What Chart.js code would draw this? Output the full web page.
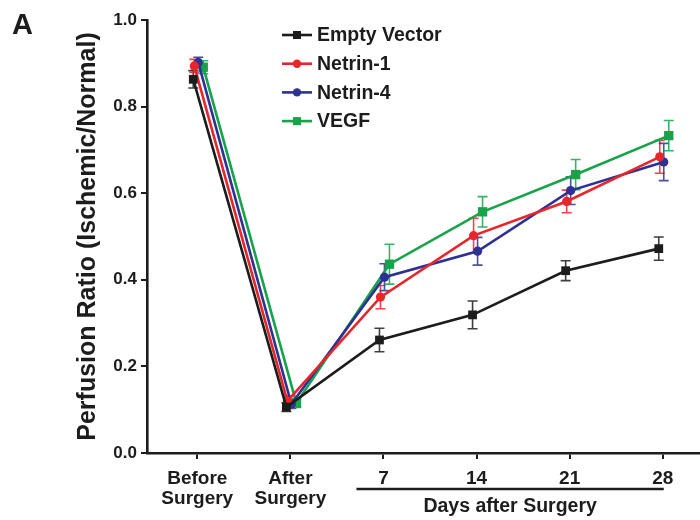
<!DOCTYPE html>
<html>
<head>
<meta charset="utf-8">
<script src="https://cdn.jsdelivr.net/npm/chart.js@4.4.1/dist/chart.umd.min.js"></script>
<style>
html,body{margin:0;padding:0;background:#ffffff;}
#wrap{width:700px;height:520px;position:relative;}
</style>
</head>
<body>
<div id="wrap"><canvas id="c" width="700" height="520"></canvas></div>
<script>
// ---- data ----
const tickLabels = [['Before', 'Surgery'], ['After', 'Surgery'], '7', '14', '21', '28'];
const seriesNames = ['Empty Vector', 'Netrin-1', 'Netrin-4', 'VEGF'];
const yTickValues = [0, 0.2, 0.4, 0.6, 0.8, 1.0];

const emptyVector    = [0.863, 0.106, 0.261, 0.319, 0.421, 0.472];
const emptyVectorErr = [0.020, 0.010, 0.027, 0.032, 0.023, 0.027];
const netrin1        = [0.894, 0.120, 0.360, 0.502, 0.581, 0.684];
const netrin1Err     = [0.015, 0.012, 0.027, 0.040, 0.026, 0.038];
const netrin4        = [0.902, 0.113, 0.406, 0.466, 0.606, 0.672];
const netrin4Err     = [0.012, 0.010, 0.031, 0.032, 0.032, 0.043];
const vegf           = [0.891, 0.115, 0.436, 0.557, 0.643, 0.733];
const vegfErr        = [0.015, 0.010, 0.046, 0.035, 0.035, 0.035];

const FONT = "'Liberation Sans', Arial, Helvetica, sans-serif";
const INK = '#1c1c1c';

function pts(arr) { return arr.map((v, i) => ({ x: i, y: v })); }

const seriesValues = [emptyVector, netrin1, netrin4, vegf];
const seriesErrors = [emptyVectorErr, netrin1Err, netrin4Err, vegfErr];
const seriesStyle = [
  { color: '#1c1c1c', point: 'rect',   radius: 6.2, nudge: -4 },
  { color: '#e8252b', point: 'circle', radius: 4.6, nudge: -3 },
  { color: '#2e3192', point: 'circle', radius: 4.6, nudge: 1 },
  { color: '#17a34a', point: 'rect',   radius: 6.6, nudge: 6 }
];

const datasets = seriesNames.map((name, k) => ({
  label: name,
  data: pts(seriesValues[k]),
  errors: seriesErrors[k],
  nudge: seriesStyle[k].nudge,
  borderColor: seriesStyle[k].color,
  backgroundColor: seriesStyle[k].color,
  pointBackgroundColor: seriesStyle[k].color,
  pointBorderColor: seriesStyle[k].color,
  pointStyle: seriesStyle[k].point,
  pointRadius: seriesStyle[k].radius,
  pointBorderWidth: 0,
  borderWidth: 2.6,
  tension: 0,
  fill: false
}));

// shift each series sideways a few pixels, as in the original figure
const nudgePlugin = {
  id: 'nudge',
  afterDatasetsUpdate(chart) {
    chart.data.datasets.forEach((ds, di) => {
      const meta = chart.getDatasetMeta(di);
      meta.data.forEach(p => { p.x += ds.nudge || 0; });
    });
  }
};

const errorBarPlugin = {
  id: 'errorBars',
  beforeDatasetsDraw(chart) {
    const ctx = chart.ctx;
    const ys = chart.scales.y;
    ctx.save();
    chart.data.datasets.forEach((ds, di) => {
      const meta = chart.getDatasetMeta(di);
      ctx.strokeStyle = ds.borderColor;
      ctx.globalAlpha = 0.85;
      ctx.lineWidth = 1.6;
      meta.data.forEach((p, i) => {
        const v = ds.data[i].y, e = ds.errors[i];
        const yt = ys.getPixelForValue(v + e), yb = ys.getPixelForValue(v - e);
        ctx.beginPath();
        ctx.moveTo(p.x, yt); ctx.lineTo(p.x, yb);
        ctx.moveTo(p.x - 5, yt); ctx.lineTo(p.x + 5, yt);
        ctx.moveTo(p.x - 5, yb); ctx.lineTo(p.x + 5, yb);
        ctx.stroke();
      });
    });
    ctx.restore();
  }
};

const decorPlugin = {
  id: 'decor',
  afterDraw(chart) {
    const ctx = chart.ctx;
    const xs = chart.scales.x;
    ctx.save();
    // panel letter
    ctx.fillStyle = INK;
    ctx.font = 'bold 29px ' + FONT;
    ctx.textAlign = 'left';
    ctx.textBaseline = 'alphabetic';
    ctx.fillText('A', 12, 34);

    // legend
    const lx0 = 282, lx1 = 312, ly0 = 35, dy = 28.7;
    chart.data.datasets.forEach((ds, k) => {
      const y = ly0 + k * dy;
      ctx.strokeStyle = ds.borderColor;
      ctx.lineWidth = 2.6;
      ctx.beginPath(); ctx.moveTo(lx0, y); ctx.lineTo(lx1, y); ctx.stroke();
      ctx.fillStyle = ds.borderColor;
      const cx = (lx0 + lx1) / 2;
      if (ds.pointStyle === 'rect') {
        ctx.fillRect(cx - 4, y - 4, 8, 8);
      } else {
        ctx.beginPath(); ctx.arc(cx, y, 4.2, 0, Math.PI * 2); ctx.fill();
      }
      ctx.fillStyle = INK;
      ctx.font = 'bold 19.5px ' + FONT;
      ctx.textAlign = 'left';
      ctx.textBaseline = 'middle';
      ctx.fillText(ds.label, 317, y + 1);
    });

    // "Days after Surgery" bracket
    const bx0 = xs.getPixelForValue(2) - 27, bx1 = xs.getPixelForValue(5) + 1;
    ctx.strokeStyle = INK;
    ctx.lineWidth = 2.4;
    ctx.beginPath(); ctx.moveTo(bx0, 489); ctx.lineTo(bx1, 489); ctx.stroke();
    ctx.fillStyle = INK;
    ctx.font = 'bold 19.5px ' + FONT;
    ctx.textAlign = 'center';
    ctx.textBaseline = 'alphabetic';
    ctx.fillText('Days after Surgery', (bx0 + bx1) / 2, 512);
    ctx.restore();
  }
};

new Chart(document.getElementById('c'), {
  type: 'line',
  data: { datasets },
  options: {
    responsive: false,
    animation: false,
    events: [],
    layout: { autoPadding: false, padding: { top: 20, left: 0, right: 0, bottom: 0 } },
    plugins: { legend: { display: false }, tooltip: { enabled: false } },
    scales: {
      x: {
        type: 'linear',
        min: -0.54,
        max: 5.4,
        afterFit(s) { s.height = 67; s.paddingLeft = 0; s.paddingRight = 0; },
        afterBuildTicks(s) { s.ticks = tickLabels.map((_, i) => ({ value: i })); },
        grid: { display: true, drawOnChartArea: false, drawTicks: true, tickLength: 6, color: INK, lineWidth: 2 },
        border: { display: true, color: INK, width: 2.6 },
        ticks: {
          color: INK,
          padding: 10,
          maxRotation: 0,
          autoSkip: false,
          font: { family: FONT, size: 19, weight: 'bold', lineHeight: 1.05 },
          callback: (v) => tickLabels[v]
        }
      },
      y: {
        min: 0,
        max: 1,
        afterFit(s) { s.width = 147; },
        afterBuildTicks(s) { s.ticks = yTickValues.map(v => ({ value: v })); },
        grid: { display: true, drawOnChartArea: false, drawTicks: true, tickLength: 6, color: INK, lineWidth: 2 },
        border: { display: true, color: INK, width: 2.6 },
        ticks: {
          color: INK,
          padding: 4,
          font: { family: FONT, size: 17, weight: 'bold' },
          callback: (v) => Number(v).toFixed(1)
        },
        title: {
          display: true,
          text: 'Perfusion Ratio (Ischemic/Normal)',
          color: INK,
          font: { family: FONT, size: 25, weight: 'bold', lineHeight: 1.2 },
          padding: { top: 73, bottom: 0 }
        }
      }
    }
  },
  plugins: [nudgePlugin, errorBarPlugin, decorPlugin]
});
</script>
</body>
</html>
